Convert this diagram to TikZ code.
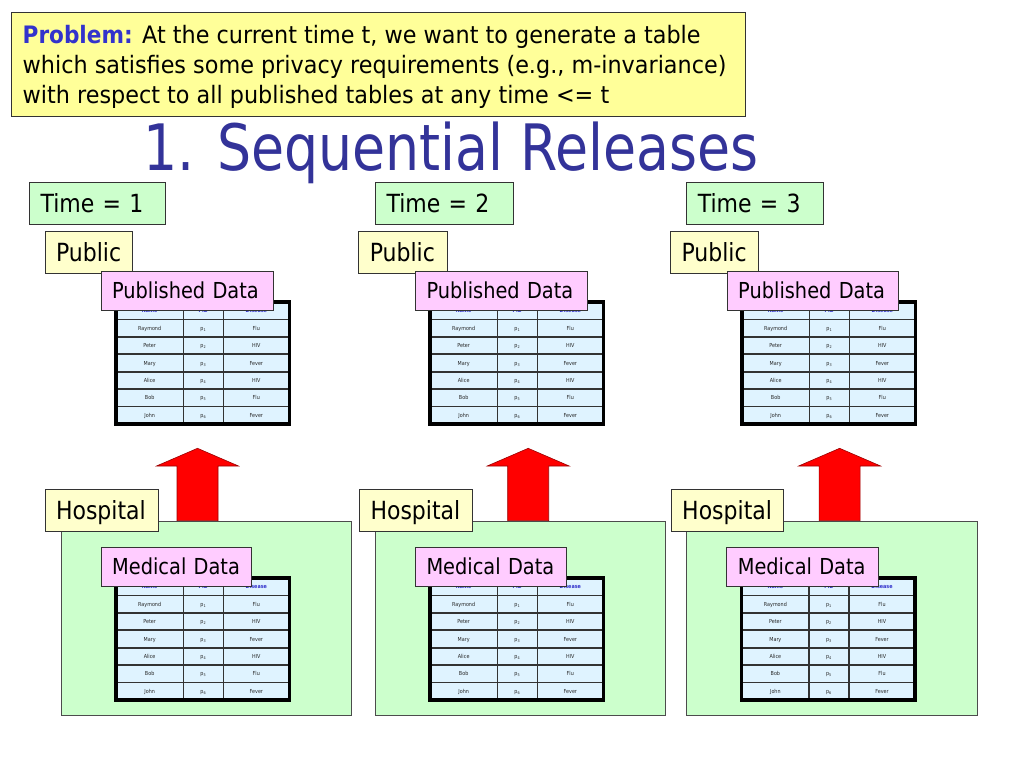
\documentclass[tikz,border=0pt]{standalone}
\usepackage{fontspec}
\setmainfont{DejaVu Sans}[FakeStretch=0.88]
\newfontfamily\probfont{DejaVu Sans}[FakeStretch=0.93]
\newfontfamily\probbold{DejaVu Sans Bold}[FakeStretch=0.9]
\newfontfamily\titlefont{DejaVu Sans}[FakeStretch=0.84]
\definecolor{probfill}{HTML}{FFFF99}
\definecolor{ylw}{HTML}{FFFFCC}
\definecolor{grn}{HTML}{CCFFCC}
\definecolor{pnk}{HTML}{FFCCFF}
\definecolor{cellbg}{HTML}{DFF3FF}
\definecolor{ttlblue}{HTML}{333399}
\definecolor{hdrblue}{HTML}{3333CC}
\definecolor{boxedge}{HTML}{333333}
\tikzset{
  lblbox/.style={draw=boxedge, line width=1pt, anchor=north west, inner xsep=11pt, inner ysep=0pt, align=left, text depth=0pt},
  areabox/.style={draw=black!70, line width=1pt, fill=grn, anchor=north west, inner sep=0pt},
  outerline/.style={draw=black, line width=3.2pt},
  innerline/.style={draw=black!80, line width=1.6pt},
  cellt/.style={inner sep=0pt, text height=4pt, text depth=0pt, font=\fontsize{5.5}{6}\selectfont, text=black!85},
  hcellt/.style={cellt, font=\fontsize{5.5}{6}\selectfont\bfseries, text=hdrblue},
  bigarrow/.style={fill=red, draw=red!60!black, line width=0.6pt}
}
\newcommand{\lbox}[8]{%
  \pgfmathsetmacro{\lbw}{#4-22}%
  \pgfmathsetmacro{\lbh}{#7*0.73}%
  \node[lblbox, fill=#6, minimum width=#4pt, minimum height=#5pt, text width=\lbw pt, text height=\lbh pt, font=\fontsize{#7}{#7}\selectfont] (#1) at (#2,#3) {#8};}
\newcommand{\datatable}[3]{%
  \begin{scope}[shift={(#2,#3)}]
    \fill[cellbg] (0,0) rectangle (173.3,122);
    \foreach \k in {1,...,6} {\draw[innerline] (0,{\k*122/7}) -- (173.3,{\k*122/7});}
    \draw[innerline] (67.3,0) -- (67.3,122);
    \draw[innerline] (107.3,0) -- (107.3,122);
    \draw[outerline] (0,0) rectangle (173.3,122);
    \node[hcellt] (#1h1) at (33.65,{0.5*122/7}) {Name};
    \node[hcellt] (#1h2) at (87.3,{0.5*122/7}) {PID};
    \node[hcellt] (#1h3) at (140.3,{0.5*122/7}) {Disease};
    \foreach \nm/\ds [count=\k] in {Raymond/Flu,Peter/HIV,Mary/Fever,Alice/HIV,Bob/Flu,John/Fever} {
      \node[cellt] (#1a\k) at (33.65,{(\k+0.5)*122/7}) {\nm};
      \node[cellt] (#1b\k) at (87.3,{(\k+0.5)*122/7}) {p\textsubscript{\k}};
      \node[cellt] (#1c\k) at (140.3,{(\k+0.5)*122/7}) {\ds};
    }
  \end{scope}}
\newcommand{\blockarrow}[1]{%
  \draw[bigarrow] ({#1-20.5},520.7) -- ({#1-20.5},466) -- ({#1-41},466) -- (#1,448.3) -- ({#1+41},466) -- ({#1+20.5},466) -- ({#1+20.5},520.7) -- cycle;}
\begin{document}
\begin{tikzpicture}[x=1pt,y=-1pt]
\useasboundingbox[fill=white] (0,0) rectangle (1024,768);

\node[draw=boxedge, line width=1pt, fill=probfill, anchor=north west, minimum width=734pt, minimum height=104pt, inner sep=0pt] (problem) at (11,12) {};
\node[anchor=north west, inner sep=0pt, align=left, font=\probfont\fontsize{24}{30}\selectfont] (problemtext) at (22.5,23.3)
  {\rule{0pt}{20pt}{\probbold\color{hdrblue}Problem:} At the current time t, we want to generate a table\\which satisfies some privacy requirements (e.g., m-invariance)\\with respect to all published tables at any time <= t};

\node[font=\titlefont\fontsize{64}{64}\selectfont, text=ttlblue, anchor=base, inner sep=0pt] (title) at (451,170) {1. Sequential Releases};

% column 1
\lbox{time1}{29}{182}{136}{42}{grn}{25}{Time = 1}
\lbox{pub1}{44.5}{230.7}{87}{42}{ylw}{25}{Public}
\datatable{pta}{116}{302}
\lbox{pd1}{100.5}{271}{172}{38.5}{pnk}{22}{Published Data}
\blockarrow{197.5}
\node[areabox, minimum width=290pt, minimum height=194pt] (area1) at (60.7,520.7) {};
\lbox{hosp1}{44.5}{489}{113}{42}{ylw}{25}{Hospital}
\datatable{mta}{116}{578}
\lbox{md1}{100.7}{546.7}{150.5}{39}{pnk}{22}{Medical Data}

% column 2
\lbox{time2}{375}{182}{137.5}{42}{grn}{25}{Time = 2}
\lbox{pub2}{358.3}{230.7}{88.4}{42}{ylw}{25}{Public}
\datatable{ptb}{430}{302}
\lbox{pd2}{415}{271}{171.7}{38.5}{pnk}{22}{Published Data}
\blockarrow{528.2}
\node[areabox, minimum width=290.8pt, minimum height=194pt] (area2) at (374.5,520.7) {};
\lbox{hosp2}{359}{489}{112.7}{42}{ylw}{25}{Hospital}
\datatable{mtb}{430}{578}
\lbox{md2}{415}{546.7}{151}{39}{pnk}{22}{Medical Data}

% column 3
\lbox{time3}{686.3}{182.3}{137}{42}{grn}{25}{Time = 3}
\lbox{pub3}{670}{230.7}{88.3}{42}{ylw}{25}{Public}
\datatable{ptc}{742}{302}
\lbox{pd3}{726.7}{271}{171.6}{38.5}{pnk}{22}{Published Data}
\blockarrow{839.6}
\node[areabox, minimum width=290.4pt, minimum height=194pt] (area3) at (686.3,520.7) {};
\lbox{hosp3}{670.7}{489}{112.6}{42}{ylw}{25}{Hospital}
\datatable{mtc}{741.7}{578}
\lbox{md3}{726.3}{546.7}{151.4}{39}{pnk}{22}{Medical Data}
\end{tikzpicture}
\end{document}
